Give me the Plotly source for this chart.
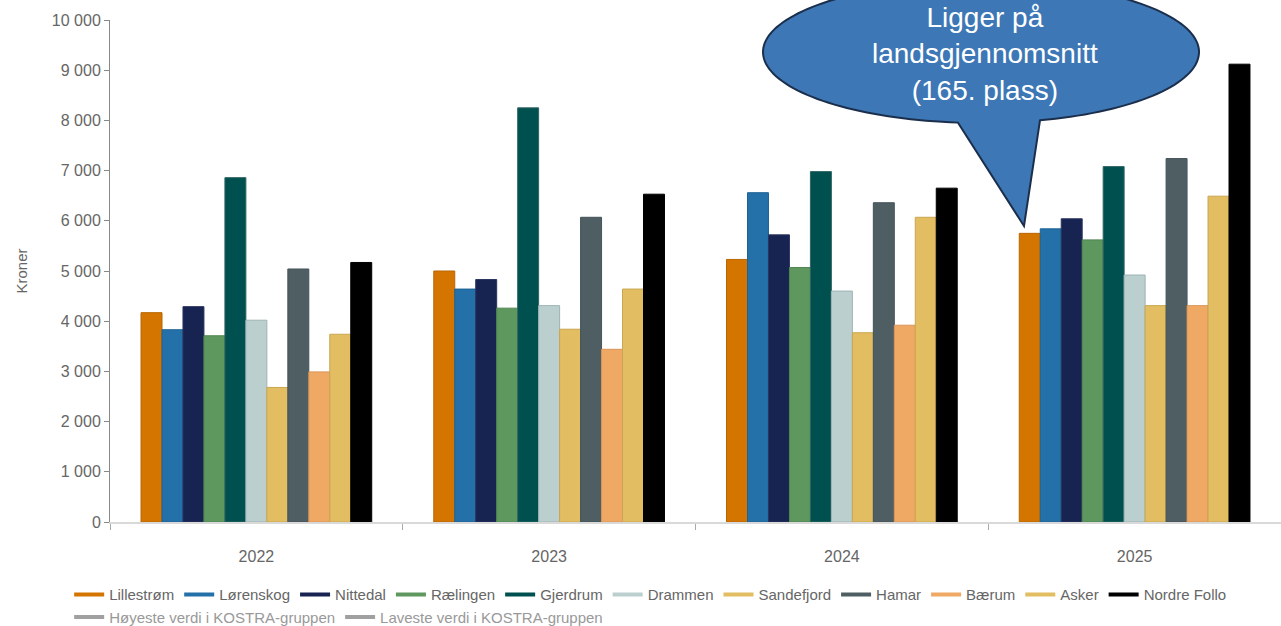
import numpy as np
import plotly.graph_objects as go

# Data
years = ["2022", "2023", "2024", "2025"]
kommuner = ["Lillestrøm", "Lørenskog", "Nittedal", "Rælingen", "Gjerdrum", "Drammen",
            "Sandefjord", "Hamar", "Bærum", "Asker", "Nordre Follo"]
lillestrom = [4170, 5000, 5230, 5750]
lorenskog = [3830, 4640, 6560, 5840]
nittedal = [4290, 4830, 5720, 6040]
raelingen = [3710, 4260, 5070, 5620]
gjerdrum = [6860, 8250, 6980, 7080]
drammen = [4020, 4310, 4600, 4920]
sandefjord = [2680, 3840, 3770, 4310]
hamar = [5040, 6070, 6360, 7240]
baerum = [2990, 3440, 3920, 4310]
asker = [3740, 4640, 6070, 6490]
nordre_follo = [5170, 6530, 6650, 9120]
kostra_labels = ["Høyeste verdi i KOSTRA-gruppen", "Laveste verdi i KOSTRA-gruppen"]
y_ticks = [0, 1000, 2000, 3000, 4000, 5000, 6000, 7000, 8000, 9000, 10000]
y_ticktext = ["0", "1 000", "2 000", "3 000", "4 000", "5 000", "6 000", "7 000", "8 000", "9 000", "10 000"]

series = [lillestrom, lorenskog, nittedal, raelingen, gjerdrum, drammen,
          sandefjord, hamar, baerum, asker, nordre_follo]
farger = ["#D47500", "#2471AA", "#172350", "#5E985E", "#00504F", "#BBCFCF",
          "#E3BD62", "#4F5E63", "#F0A965", "#E3BD62", "#000000"]
kanter = ["#B86600", "#1E6294", "#2A3560", "#4F8650", "#2F6664", "#9DB3B3",
          "#C9A650", "#44545A", "#D89558", "#C9A650", "#000000"]

FONT = "Liberation Sans, Arial, sans-serif"

fig = go.Figure()

for navn, verdier, farge, kant in zip(kommuner, series, farger, kanter):
    fig.add_trace(go.Bar(x=years, y=verdier, name=navn, legendgroup=navn, showlegend=False,
                         marker=dict(color=farge, line=dict(color=kant, width=1))))
    # legend entry drawn as a short line like the original
    fig.add_trace(go.Scatter(x=[None], y=[None], mode="lines", name=navn, legendgroup=navn,
                             line=dict(color=farge, width=4), legend="legend"))

for navn in kostra_labels:
    fig.add_trace(go.Scatter(x=[None], y=[None], mode="lines", name=navn,
                             line=dict(color="#A0A0A0", width=4), legend="legend2"))

# Speech bubble (pixel geometry -> paper coords)
L, R, T, B = 110, 1281, 20, 522
cx, cy, rx, ry = 981, 52, 218, 71
tip = (1024, 226)
t_right = np.arccos((1040 - cx) / rx)
t_left = np.arccos((958 - cx) / rx) - 2 * np.pi
ang = np.linspace(t_right, t_left, 160)
px = cx + rx * np.cos(ang)
py = cy + ry * np.sin(ang)
pts = list(zip(px, py)) + [tip]
def to_paper(p):
    return (p[0] - L) / (R - L), (B - p[1]) / (B - T)
path = "M " + " L ".join(f"{to_paper(p)[0]:.5f},{to_paper(p)[1]:.5f}" for p in pts) + " Z"

fig.add_shape(type="path", path=path, xref="paper", yref="paper",
              fillcolor="#3D77B5", line=dict(color="#1B2F4C", width=2), layer="above")

fig.add_annotation(x=(cx + 4 - L) / (R - L), y=(B - 54) / (B - T), xref="paper", yref="paper",
                   xanchor="center", yanchor="middle",
                   text="Ligger på<br>landsgjennomsnitt<br>(165. plass)", showarrow=False,
                   font=dict(family=FONT, size=28, color="white"),
                   align="center")

fig.update_layout(
    width=1281, height=626,
    margin=dict(l=110, r=0, t=20, b=104, autoexpand=False),
    plot_bgcolor="white", paper_bgcolor="white",
    barmode="group", bargap=0.212, bargroupgap=0,
    font=dict(family=FONT, color="#666666", size=15),
    xaxis=dict(showline=True, linecolor="#D9D9D9", linewidth=2, ticks="outside",
               tickson="boundaries", ticklen=6, tickcolor="#AAAAAA", ticklabelstandoff=19,
               tickfont=dict(size=16, color="#666666"), showgrid=False),
    yaxis=dict(range=[0, 10000], tickvals=y_ticks, ticktext=y_ticktext, showgrid=False,
               showline=True, linecolor="#888888", linewidth=1, ticks="outside", ticklen=5,
               tickcolor="#888888", tickfont=dict(size=16, color="#666666"),
               title=dict(text="Kroner", font=dict(size=15, color="#666666"), standoff=20)),
    legend=dict(orientation="h", x=0.054, xref="container", y=0.05, yref="container",
                yanchor="middle", font=dict(size=15, color="#666666"),
                bgcolor="rgba(0,0,0,0)", itemwidth=30, tracegroupgap=0),
    legend2=dict(orientation="h", x=0.054, xref="container", y=0.014, yref="container",
                 yanchor="middle", font=dict(size=15, color="#999999"),
                 bgcolor="rgba(0,0,0,0)", itemwidth=30),
)

# the page body has a default 8px margin; remove it so the figure fills the window
fig.write_html("out.html", config={"displayModeBar": False},
               post_script="document.body.style.margin='0';")
